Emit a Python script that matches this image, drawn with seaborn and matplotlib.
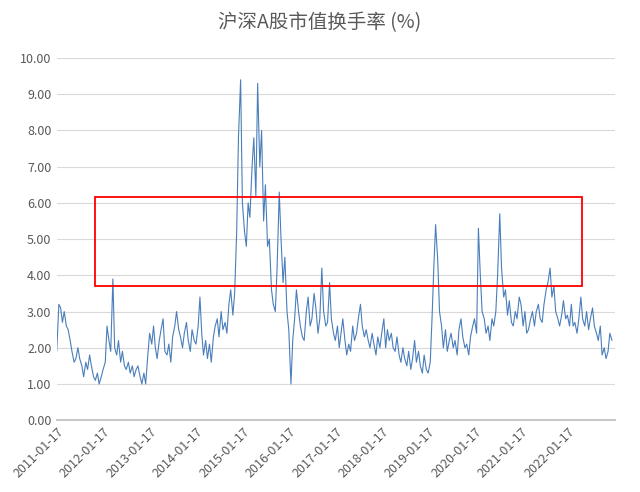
import matplotlib
matplotlib.use("Agg")
import matplotlib.pyplot as plt
import matplotlib.patches as mpatches
import matplotlib.dates as mdates
import seaborn as sns
import pandas as pd

v2011 = [1.9,3.2,3.1,2.7,3.0,2.6,2.5,2.2,1.9,1.6,1.7,2.0,1.7,1.5,1.2,1.6,1.4,1.8,1.5,1.2,1.1,1.3,1.0,1.2]
v2012 = [1.4,1.6,2.6,2.2,1.9,3.9,2.0,1.8,2.2,1.6,1.9,1.5,1.4,1.6,1.3,1.5,1.2,1.4,1.5,1.2,1.0,1.3,1.0,1.8]
v2013 = [2.4,2.1,2.6,2.0,1.7,2.2,2.5,2.8,1.9,1.8,2.1,1.6,2.3,2.6,3.0,2.5,2.3,2.0,2.4,2.7,2.2,1.9,2.5,2.2]
v2014 = [2.1,2.6,3.4,2.4,1.8,2.2,1.7,2.1,1.6,2.3,2.6,2.8,2.3,3.0,2.5,2.7,2.4,3.2,3.6,2.9,3.5,5.2,7.8,9.4]
v2015 = [6.0,5.2,4.8,6.0,5.6,7.0,7.8,6.2,9.3,7.0,8.0,5.5,6.5,4.8,5.0,3.6,3.2,3.0,4.2,6.3,5.0,3.8,4.5,3.0]
v2016 = [2.5,1.0,2.2,2.8,3.6,3.0,2.6,2.3,2.2,3.0,3.4,2.6,2.8,3.5,3.1,2.4,2.8,4.2,3.0,2.6,2.7,3.8,2.8,2.4]
v2017 = [2.2,2.6,2.0,2.4,2.8,2.2,1.8,2.1,1.9,2.6,2.2,2.4,2.8,3.2,2.6,2.3,2.5,2.2,2.0,2.4,2.1,1.8,2.3,2.0]
v2018 = [2.4,2.8,2.0,2.5,2.2,2.4,2.0,1.9,2.3,1.8,1.6,2.0,1.7,1.5,1.9,1.4,1.7,2.2,1.6,1.9,1.5,1.3,1.8,1.4]
v2019 = [1.3,1.6,2.8,4.2,5.4,4.4,3.0,2.6,2.0,2.5,1.9,2.2,2.4,2.0,2.2,1.8,2.5,2.8,2.3,2.0,2.1,1.8,2.3,2.6]
v2020 = [2.8,2.4,5.3,4.0,3.0,2.8,2.4,2.6,2.2,2.8,2.6,3.0,4.0,5.7,4.2,3.4,3.6,2.9,3.3,2.7,2.6,3.0,2.8,3.4]
v2021 = [3.2,2.6,3.0,2.4,2.5,2.8,3.0,2.6,3.0,3.2,2.8,2.7,3.2,3.6,3.8,4.2,3.4,3.7,3.0,2.8,2.6,2.9,3.3,2.8]
v2022 = [2.9,2.6,3.2,2.6,2.7,2.4,2.8,3.4,2.8,2.6,3.0,2.5,2.8,3.1,2.6,2.4,2.2,2.6,1.8,2.0,1.7,1.9,2.4,2.2]

values = v2011+v2012+v2013+v2014+v2015+v2016+v2017+v2018+v2019+v2020+v2021+v2022
dates = pd.date_range("2011-01-15", periods=len(values), freq="SMS")
tick_labels = [f"{y}-01-17" for y in range(2011, 2023)]
title = "沪深A股市值换手率 (%)"

sns.set_theme(style="white")
plt.rcParams['font.family'] = ['Noto Sans CJK SC', 'DejaVu Sans']

fig = plt.figure(figsize=(6.4, 4.92), dpi=100)
ax = fig.add_axes([0.089, 0.146, 0.872, 0.736])
df = pd.DataFrame({"date": dates, "v": values})
sns.lineplot(data=df, x="date", y="v", ax=ax, color="#4A7EBB", linewidth=0.8)

ax.set_ylim(0, 10)
ax.set_yticks(range(0, 11))
ax.set_yticklabels([f"{i:.2f}" for i in range(0, 11)], fontsize=9, color="#595959")
ticks = pd.to_datetime(tick_labels)
ax.set_xticks(ticks)
ax.set_xticklabels(tick_labels, rotation=45, ha="right", rotation_mode="anchor", fontsize=9, color="#595959")
ax.set_xlim(pd.Timestamp("2011-01-17"), pd.Timestamp("2023-01-25"))
ax.set_xlabel("")
ax.set_ylabel("")
ax.grid(axis="y", color="#D9D9D9", linewidth=0.8)
for s in ["left", "right", "top"]:
    ax.spines[s].set_visible(False)
ax.spines["bottom"].set_color("#BFBFBF")
ax.tick_params(axis="both", length=0, pad=4)

x0 = mdates.date2num(pd.Timestamp("2011-11-10"))
x1 = mdates.date2num(pd.Timestamp("2022-05-10"))
ax.add_patch(mpatches.Rectangle((x0, 3.7), x1 - x0, 2.45, fill=False, edgecolor="#FF0000", linewidth=1.3, zorder=5))

fig.suptitle(title, x=0.5, y=0.975, fontsize=14, color="#595959")
fig.savefig("out.png", dpi=100)
